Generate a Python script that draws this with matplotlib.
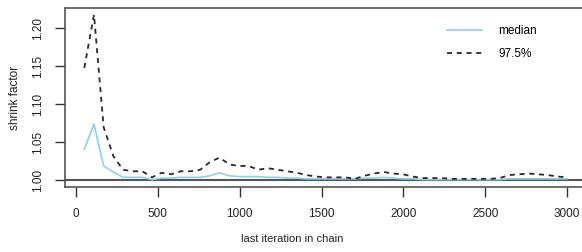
import matplotlib
matplotlib.use('Agg')
import matplotlib.pyplot as plt

# last iteration of each bin (gelman.plot style)
last_iter = [51, 110, 169, 228, 287, 346, 405, 464, 523, 582,
             641, 700, 759, 818, 877, 936, 995, 1054, 1113, 1172,
             1231, 1290, 1349, 1408, 1467, 1526, 1585, 1644, 1703, 1762,
             1821, 1880, 1939, 1998, 2057, 2116, 2175, 2234, 2293, 2352,
             2411, 2470, 2529, 2588, 2647, 2706, 2765, 2824, 2883, 2942,
             3000]

median = [1.041, 1.074, 1.019, 1.011, 1.004, 1.004, 1.004, 1.001, 1.003, 1.003,
          1.004, 1.004, 1.004, 1.006, 1.010, 1.006, 1.005, 1.005, 1.005, 1.004,
          1.004, 1.003, 1.003, 1.002, 1.002, 1.002, 1.002, 1.002, 1.002, 1.003,
          1.003, 1.004, 1.003, 1.002, 1.002, 1.001, 1.001, 1.001, 1.001, 1.001,
          1.001, 1.001, 1.001, 1.001, 1.002, 1.002, 1.002, 1.002, 1.002, 1.002,
          1.002]

upper = [1.148, 1.218, 1.070, 1.032, 1.014, 1.012, 1.012, 1.004, 1.010, 1.008,
         1.012, 1.012, 1.014, 1.024, 1.030, 1.021, 1.019, 1.019, 1.014, 1.016,
         1.014, 1.012, 1.010, 1.007, 1.005, 1.004, 1.004, 1.004, 1.002, 1.006,
         1.009, 1.011, 1.009, 1.008, 1.005, 1.003, 1.003, 1.003, 1.002, 1.002,
         1.002, 1.002, 1.002, 1.003, 1.007, 1.008, 1.009, 1.008, 1.007, 1.005,
         1.004]

x_ticks = [0, 500, 1000, 1500, 2000, 2500, 3000]
y_ticks = [1.00, 1.05, 1.10, 1.15, 1.20]

plt.rcParams['font.family'] = ['Liberation Sans', 'DejaVu Sans']
plt.rcParams['font.size'] = 8.5

fig = plt.figure(figsize=(5.82, 2.52), dpi=100)
ax = fig.add_axes([0.1117, 0.258, 0.8959, 0.710])

ax.plot(last_iter, median, color='#8FD0EC', lw=1.2, label='median')
ax.plot(last_iter, upper, color='#2a2a2a', lw=1.3, dashes=(2.8, 2.6), label='97.5%')
ax.axhline(1.0, color='#555555', lw=1.5, zorder=1)

ax.set_xlim(-67, 3118)
ax.set_ylim(0.9913, 1.2267)
ax.set_xticks(x_ticks)
ax.set_xticklabels([str(t) for t in x_ticks])
ax.set_yticks(y_ticks)
ax.set_yticklabels(['%.2f' % t for t in y_ticks], rotation=90, va='center')

for s in ['left', 'top', 'bottom']:
    ax.spines[s].set_color('#555555')
    ax.spines[s].set_linewidth(1.2)
ax.spines['right'].set_visible(False)
ax.tick_params(colors='#333333', length=7, width=1.0, pad=8, labelcolor='#222222')

ax.set_xlabel('last iteration in chain', labelpad=12, color='#222222', fontsize=8)
ax.xaxis.set_label_coords(0.435, -0.26)
ax.set_ylabel('shrink factor', labelpad=8, color='#222222')

ax.legend(loc='upper left', bbox_to_anchor=(0.732, 0.905), frameon=False,
          handlelength=3.0, handletextpad=1.4, labelspacing=0.9, borderpad=0,
          borderaxespad=0)

fig.savefig('out.png', dpi=100)
